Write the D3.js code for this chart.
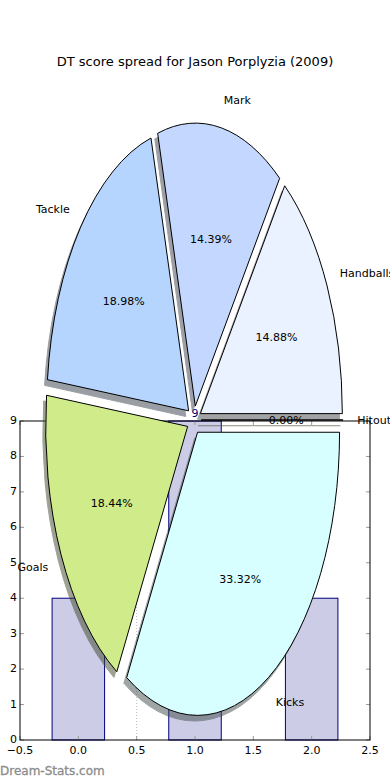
<!DOCTYPE html>
<html>
<head>
<meta charset="utf-8">
<script src="https://cdn.jsdelivr.net/npm/d3@7"></script>
<style>
  body { margin: 0; background: #fff; }
  svg { display: block; font-family: "DejaVu Sans", sans-serif; }
</style>
</head>
<body>
<svg id="chart" width="390" height="780"></svg>
<script>
// pie data (counter-clockwise from 3 o'clock, matplotlib style)
var labels = ["Hitout", "Handballs", "Mark", "Tackle", "Goals", "Kicks"];
var shares = [0.00, 14.88, 14.39, 18.98, 18.44, 33.32];
var sliceColors = ["#ffffcc", "#eaf1ff", "#c4d8ff", "#b5d5ff", "#cfeb8a", "#d8ffff"];

// bar chart drawn behind the pie
var barX = [0, 1, 2];
var barValues = [4, 9, 4];
var xTicks = [-0.5, 0, 0.5, 1, 1.5, 2, 2.5];
var yTicks = [0, 1, 2, 3, 4, 5, 6, 7, 8, 9];

var svg = d3.select("#chart");

// axes area
var x = d3.scaleLinear().domain([-0.5, 2.5]).range([20, 370]);
var y = d3.scaleLinear().domain([0, 9]).range([740, 421]);
var barWidth = 0.45;

var ax = svg.append("g");

ax.selectAll("rect.bar")
  .data(barValues)
  .enter()
  .append("rect")
  .attr("class", "bar")
  .attr("x", function(d, i){ return x(barX[i] - barWidth / 2); })
  .attr("width", function(d, i){ return x(barX[i] + barWidth / 2) - x(barX[i] - barWidth / 2); })
  .attr("y", function(d){ return y(d); })
  .attr("height", function(d){ return y(0) - y(d); })
  .attr("fill", "#cccce6")
  .attr("stroke", "#000080")
  .attr("stroke-width", 1);

// value labels on bars
ax.selectAll("text.val")
  .data(barValues)
  .enter()
  .append("text")
  .attr("x", function(d, i){ return x(barX[i]); })
  .attr("y", function(d){ return y(d) - 4; })
  .attr("text-anchor", "middle")
  .attr("font-size", "11px")
  .attr("fill", "#000080")
  .text(function(d){ return d; });

// dotted separator
ax.append("line")
  .attr("x1", x(0.5)).attr("x2", x(0.5))
  .attr("y1", y(9)).attr("y2", y(0))
  .attr("stroke", "#bbb")
  .attr("stroke-dasharray", "1,2");

// ticks (inside, on all four sides)
var tickLen = 4;
xTicks.forEach(function(t){
  ax.append("line").attr("x1", x(t)).attr("x2", x(t))
    .attr("y1", y(0)).attr("y2", y(0) - tickLen).attr("stroke", "#999");
  ax.append("line").attr("x1", x(t)).attr("x2", x(t))
    .attr("y1", y(9)).attr("y2", y(9) + tickLen).attr("stroke", "#999");
});
yTicks.forEach(function(t){
  ax.append("line").attr("x1", x(-0.5)).attr("x2", x(-0.5) + tickLen)
    .attr("y1", y(t)).attr("y2", y(t)).attr("stroke", "#999");
  ax.append("line").attr("x1", x(2.5)).attr("x2", x(2.5) - tickLen)
    .attr("y1", y(t)).attr("y2", y(t)).attr("stroke", "#999");
});

// spines
ax.append("rect")
  .attr("x", x(-0.5)).attr("y", y(9))
  .attr("width", x(2.5) - x(-0.5)).attr("height", y(0) - y(9))
  .attr("fill", "none").attr("stroke", "#000").attr("stroke-width", 1);

// tick labels
ax.selectAll("text.xt")
  .data(xTicks)
  .enter()
  .append("text")
  .attr("x", function(d){ return x(d); })
  .attr("y", 754)
  .attr("text-anchor", "middle")
  .attr("font-size", "11px")
  .text(function(d){ return d3.format(".1f")(d).replace("-", "\u2212"); });

ax.selectAll("text.yt")
  .data(yTicks)
  .enter()
  .append("text")
  .attr("x", 17)
  .attr("y", function(d){ return y(d) + 3; })
  .attr("text-anchor", "end")
  .attr("font-size", "11px")
  .text(function(d){ return d; });

// pie as an ellipse (non-equal aspect)
var cx = 194, cy = 420, rx = 142, ry = 283;
var explode = 0.05;

var pie = d3.pie()
  .sort(null)
  .startAngle(Math.PI / 2)
  .endAngle(Math.PI / 2 - 2 * Math.PI);

var arcs = pie(shares);
var total = d3.sum(shares);
var arc = d3.arc().innerRadius(0).outerRadius(1);

function mid(d){ return (d.startAngle + d.endAngle) / 2; }
function offX(d, k){ return k * Math.sin(mid(d)); }
function offY(d, k){ return -k * Math.cos(mid(d)); }
function shade(i){ var c = d3.rgb(sliceColors[i]); return d3.rgb(c.r * 0.3, c.g * 0.3, c.b * 0.3); }

var pieG = svg.append("g")
  .attr("transform", "translate(" + cx + "," + cy + ") scale(" + rx + "," + ry + ")");

// shadows first, underneath every wedge
pieG.selectAll("path.shadow")
  .data(arcs)
  .enter()
  .append("path")
  .attr("class", "shadow")
  .attr("d", arc)
  .attr("transform", function(d){
    return "translate(" + (offX(d, explode) - 0.02) + "," + (offY(d, explode) + 0.02) + ")";
  })
  .attr("fill", function(d, i){ return shade(i); })
  .attr("stroke", function(d, i){ return shade(i); })
  .attr("vector-effect", "non-scaling-stroke")
  .attr("stroke-width", 1)
  .attr("opacity", 0.5);

pieG.selectAll("path.wedge")
  .data(arcs)
  .enter()
  .append("path")
  .attr("class", "wedge")
  .attr("d", arc)
  .attr("transform", function(d){
    return "translate(" + offX(d, explode) + "," + offY(d, explode) + ")";
  })
  .attr("fill", function(d, i){ return sliceColors[i]; })
  .attr("stroke", "#000")
  .attr("stroke-width", 1)
  .attr("vector-effect", "non-scaling-stroke");

// labels at 1.1 radius, percentages at 0.6 radius (both shifted by explode)
svg.selectAll("text.lab")
  .data(arcs)
  .enter()
  .append("text")
  .attr("x", function(d){ return cx + rx * offX(d, 1.1 + explode); })
  .attr("y", function(d){ return cy + ry * offY(d, 1.1 + explode) + 4; })
  .attr("text-anchor", function(d){ return offX(d, 1) > 0 ? "start" : "end"; })
  .attr("font-size", "11px")
  .text(function(d, i){ return labels[i]; });

svg.selectAll("text.pct")
  .data(arcs)
  .enter()
  .append("text")
  .attr("x", function(d){ return cx + rx * offX(d, 0.6 + explode); })
  .attr("y", function(d){ return cy + ry * offY(d, 0.6 + explode) + 4; })
  .attr("text-anchor", "middle")
  .attr("font-size", "11px")
  .text(function(d){ return (d.value / total * 100).toFixed(2) + "%"; });

// title
svg.append("text")
  .attr("x", 195)
  .attr("y", 66)
  .attr("text-anchor", "middle")
  .attr("font-size", "13px")
  .text("DT score spread for Jason Porplyzia (2009)");

// watermark
svg.append("text")
  .attr("x", 0)
  .attr("y", 775)
  .attr("font-size", "12px")
  .attr("fill", "#8c8c8c")
  .attr("stroke", "#8c8c8c")
  .attr("stroke-width", 0.3)
  .text("Dream-Stats.com");
</script>
</body>
</html>
